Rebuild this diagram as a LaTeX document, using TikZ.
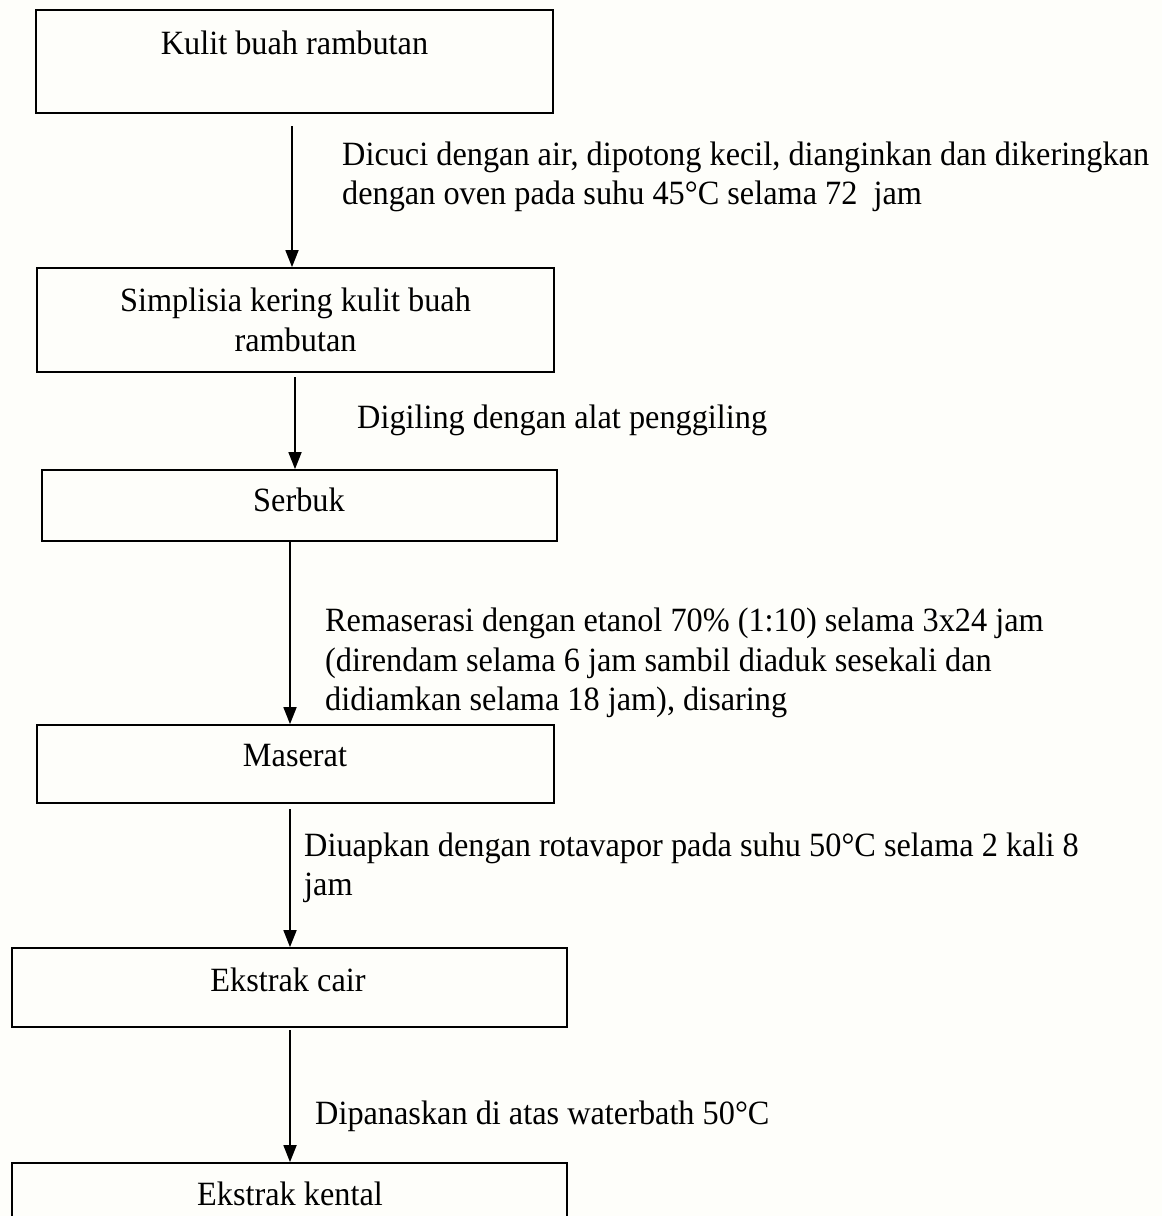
\documentclass[tikz,border=0pt]{standalone}
\usepackage{fontspec}
\setmainfont{Liberation Serif}[FakeStretch=0.95]
\usetikzlibrary{arrows.meta}
\definecolor{bg}{RGB}{254,254,250}
\begin{document}
\begin{tikzpicture}[x=1pt,y=-1pt,
  box/.style={draw, line width=1.8pt, inner sep=0pt},
  lbl/.style={font=\fontsize{34}{39.5}\selectfont, inner sep=0pt, align=left, anchor=west},
  ttl/.style={font=\fontsize{34}{39.5}\selectfont, inner sep=0pt, align=center},
  flow/.style={line width=1.8pt, -{Triangle[length=17pt,width=13pt]}}]
\useasboundingbox[fill=bg] (0,0) rectangle (1162,1216);
% boxes
\node[box, minimum width=517pt, minimum height=103pt] (b1) at (294.5,61.5) {};
\node[box, minimum width=517pt, minimum height=104pt] (b2) at (295.5,320) {};
\node[box, minimum width=515pt, minimum height=71pt] (b3) at (299.5,505.5) {};
\node[box, minimum width=517pt, minimum height=78pt] (b4) at (295.5,764) {};
\node[box, minimum width=555pt, minimum height=79pt] (b5) at (289.5,987.5) {};
\node[box, minimum width=555pt, minimum height=77pt] (b6) at (289.5,1201.5) {};
% box texts
\node[ttl] (t1) at (294.5,43) {Kulit buah rambutan};
\node[ttl] (t2) at (295.5,320) {Simplisia kering kulit buah\\rambutan};
\node[ttl] (t3) at (299,500) {Serbuk};
\node[ttl] (t4) at (295,756) {Maserat};
\node[ttl] (t5) at (288,980) {Ekstrak cair};
\node[ttl] (t6) at (290,1194) {Ekstrak kental};
% arrows
\coordinate (a1) at (292,126);
\coordinate (a2) at (295,377);
\coordinate (a3) at (290,541);
\coordinate (a4) at (290,809);
\coordinate (a5) at (290,1030);
\draw[flow] (a1) -- (a1 |- b2.north);
\draw[flow] (a2) -- (a2 |- b3.north);
\draw[flow] (a3) -- (a3 |- b4.north);
\draw[flow] (a4) -- (a4 |- b5.north);
\draw[flow] (a5) -- (a5 |- b6.north);
% step labels
\node[lbl] (l1) at (342,177) {Dicuci dengan air, dipotong kecil, dianginkan dan dikeringkan\\dengan oven pada suhu 45°C selama 72~ jam};
\node[lbl] (l2) at (357,420) {Digiling dengan alat penggiling};
\node[lbl] (l3) at (325,663) {Remaserasi dengan etanol 70\% (1:10) selama 3x24 jam\\(direndam selama 6 jam sambil diaduk sesekali dan\\didiamkan selama 18 jam), disaring};
\node[lbl] (l4) at (304,868) {Diuapkan dengan rotavapor pada suhu 50°C selama 2 kali 8\\jam};
\node[lbl] (l5) at (315,1116) {Dipanaskan di atas waterbath 50°C};
\end{tikzpicture}
\end{document}
